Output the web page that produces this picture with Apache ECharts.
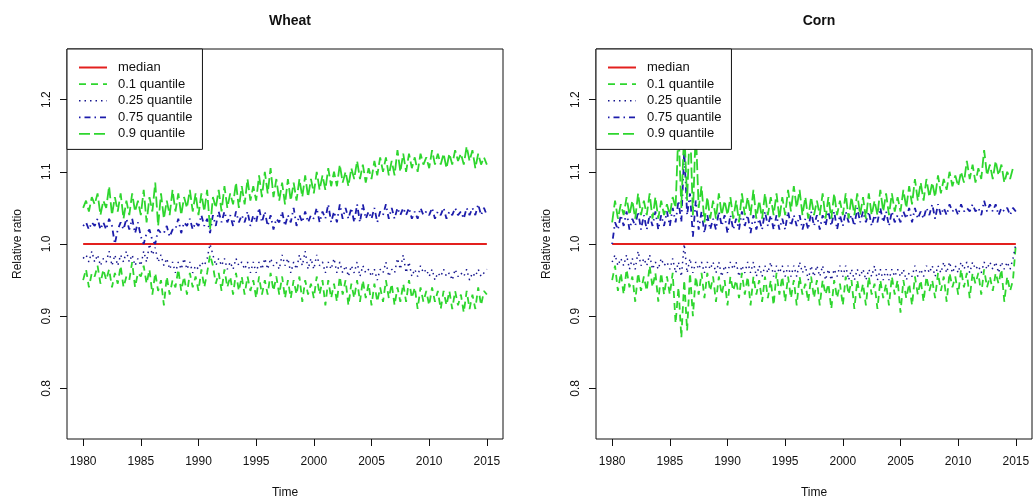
<!DOCTYPE html>
<html>
<head>
<meta charset="utf-8">
<title>Wheat and Corn relative ratio quantiles</title>
<script src="https://cdn.jsdelivr.net/npm/echarts@6/dist/echarts.min.js"></script>
<style>
  html, body { margin: 0; padding: 0; background: #fff; }
  #chart { width: 1034px; height: 502px; }
</style>
</head>
<body>
<div id="chart"></div>
<script>
// quarterly samples, 1980.00 .. 2015.00
const startYear = 1980;
const stepsPerYear = 4;

const yearTicks = [1980, 1985, 1990, 1995, 2000, 2005, 2010, 2015];
const ratioTicks = [0.8, 0.9, 1.0, 1.1, 1.2];
const seriesNames = ['median', '0.1 quantile', '0.25 quantile', '0.75 quantile', '0.9 quantile'];

// median is flat at 1
const medianYears = [1980, 2015];
const medianValues = [1.0, 1.0];

// Wheat
const wheatQ10 = [
  0.95, 0.965, 0.94, 0.96,
  0.955, 0.97, 0.945, 0.965,
  0.95, 0.965, 0.94, 0.96,
  0.945, 0.97, 0.94, 0.955,
  0.95, 0.975, 0.94, 0.96,
  0.955, 0.97, 0.945, 0.965,
  0.93, 0.96, 0.935, 0.95,
  0.915, 0.955, 0.93, 0.95,
  0.94, 0.965, 0.935, 0.955,
  0.93, 0.96, 0.94, 0.955,
  0.935, 0.965, 0.94, 0.96,
  0.985, 0.97, 0.945, 0.96,
  0.935, 0.965, 0.94, 0.955,
  0.93, 0.96, 0.935, 0.955,
  0.93, 0.955, 0.935, 0.95,
  0.925, 0.955, 0.93, 0.95,
  0.93, 0.96, 0.935, 0.955,
  0.93, 0.955, 0.925, 0.95,
  0.925, 0.95, 0.93, 0.955,
  0.92, 0.95, 0.93, 0.945,
  0.925, 0.955, 0.93, 0.95,
  0.915, 0.95, 0.925, 0.945,
  0.92, 0.955, 0.93, 0.95,
  0.915, 0.945, 0.925, 0.95,
  0.92, 0.95, 0.925, 0.945,
  0.915, 0.945, 0.92, 0.94,
  0.92, 0.95, 0.925, 0.945,
  0.915, 0.94, 0.92, 0.945,
  0.92, 0.95, 0.925, 0.94,
  0.91, 0.94, 0.92, 0.935,
  0.915, 0.94, 0.92, 0.935,
  0.91, 0.935, 0.915, 0.935,
  0.91, 0.935, 0.915, 0.93,
  0.905, 0.935, 0.91, 0.93,
  0.91, 0.94, 0.915, 0.935,
  0.93
];
const wheatQ25 = [
  0.98, 0.985, 0.975, 0.99,
  0.975, 0.985, 0.97, 0.98,
  0.975, 0.99, 0.97, 0.985,
  0.97, 0.985, 0.975, 0.99,
  0.975, 0.985, 0.97, 0.98,
  0.97, 0.99, 0.975, 1.0,
  0.985, 0.995, 0.975, 0.985,
  0.97, 0.98, 0.965, 0.975,
  0.96, 0.975, 0.965, 0.98,
  0.965, 0.975, 0.96, 0.97,
  0.965, 0.975, 0.97, 0.98,
  1.0, 0.985, 0.97, 0.98,
  0.97, 0.98, 0.965, 0.975,
  0.965, 0.98, 0.97, 0.975,
  0.965, 0.975, 0.96, 0.975,
  0.96, 0.975, 0.965, 0.98,
  0.965, 0.98, 0.97, 0.975,
  0.965, 0.985, 0.97, 0.98,
  0.96, 0.975, 0.965, 0.985,
  0.97, 0.99, 0.965, 0.98,
  0.965, 0.985, 0.97, 0.975,
  0.96, 0.975, 0.965, 0.98,
  0.96, 0.975, 0.96, 0.97,
  0.955, 0.97, 0.96, 0.975,
  0.955, 0.97, 0.96, 0.965,
  0.955, 0.965, 0.95, 0.965,
  0.96, 0.975, 0.955, 0.965,
  0.96, 0.98, 0.965, 0.985,
  0.96, 0.975, 0.955, 0.965,
  0.955, 0.97, 0.96, 0.965,
  0.955, 0.965, 0.95, 0.96,
  0.955, 0.965, 0.955, 0.96,
  0.95, 0.965, 0.955, 0.96,
  0.955, 0.965, 0.95, 0.96,
  0.955, 0.965, 0.955, 0.96,
  0.965
];
const wheatQ75 = [
  1.025, 1.03, 1.02, 1.03,
  1.025, 1.035, 1.02, 1.03,
  1.02, 1.035, 1.025, 1.0,
  1.02, 1.03, 1.02, 1.035,
  1.02, 1.035, 1.015, 1.03,
  1.01, 1.0, 1.015, 1.02,
  1.005, 1.0, 1.02, 1.015,
  1.015, 1.025, 1.01, 1.02,
  1.02, 1.035, 1.015, 1.03,
  1.025, 1.035, 1.02, 1.03,
  1.025, 1.04, 1.025, 1.035,
  1.015, 1.04, 1.025, 1.045,
  1.03, 1.045, 1.03, 1.04,
  1.025, 1.045, 1.03, 1.04,
  1.03, 1.045, 1.025, 1.04,
  1.03, 1.05, 1.03, 1.045,
  1.025, 1.04, 1.02, 1.035,
  1.03, 1.045, 1.025, 1.04,
  1.03, 1.05, 1.025, 1.04,
  1.03, 1.045, 1.03, 1.04,
  1.035, 1.05, 1.03, 1.045,
  1.035, 1.055, 1.03, 1.045,
  1.03, 1.055, 1.035, 1.05,
  1.035, 1.05, 1.03, 1.055,
  1.03, 1.055, 1.035, 1.045,
  1.035, 1.05, 1.03, 1.045,
  1.04, 1.055, 1.035, 1.05,
  1.035, 1.05, 1.04, 1.05,
  1.04, 1.05, 1.035, 1.045,
  1.035, 1.05, 1.04, 1.045,
  1.04, 1.05, 1.035, 1.045,
  1.04, 1.05, 1.035, 1.045,
  1.04, 1.05, 1.04, 1.045,
  1.035, 1.05, 1.04, 1.05,
  1.04, 1.055, 1.04, 1.05,
  1.04
];
const wheatQ90 = [
  1.05, 1.06, 1.045, 1.065,
  1.055, 1.07, 1.04, 1.06,
  1.05, 1.08, 1.04, 1.065,
  1.045, 1.07, 1.035, 1.06,
  1.04, 1.07, 1.045, 1.06,
  1.04, 1.075, 1.03, 1.065,
  1.045, 1.085, 1.025, 1.07,
  1.035, 1.06, 1.04, 1.075,
  1.045, 1.07, 1.04, 1.065,
  1.05, 1.075, 1.045, 1.07,
  1.04, 1.07, 1.045, 1.075,
  1.02, 1.065, 1.05, 1.075,
  1.045, 1.08, 1.05, 1.07,
  1.055, 1.085, 1.05, 1.08,
  1.055, 1.09, 1.06, 1.08,
  1.06, 1.095, 1.065, 1.1,
  1.07, 1.105, 1.065, 1.09,
  1.06, 1.085, 1.055, 1.09,
  1.06, 1.085, 1.06, 1.09,
  1.065, 1.095, 1.065, 1.09,
  1.07, 1.1, 1.075, 1.095,
  1.075, 1.105, 1.08, 1.1,
  1.08, 1.11, 1.085, 1.1,
  1.08, 1.105, 1.09, 1.115,
  1.09, 1.11, 1.085, 1.105,
  1.09, 1.115, 1.095, 1.12,
  1.1, 1.12, 1.095, 1.115,
  1.095, 1.13, 1.1, 1.125,
  1.1, 1.125, 1.105, 1.12,
  1.1, 1.125, 1.11, 1.12,
  1.105, 1.13, 1.11, 1.125,
  1.11, 1.125, 1.105, 1.125,
  1.11, 1.13, 1.115, 1.125,
  1.11, 1.135, 1.115, 1.13,
  1.105, 1.125, 1.11, 1.12,
  1.11
];

// Corn
const cornQ10 = [
  0.95, 0.97, 0.935, 0.96,
  0.93, 0.965, 0.94, 0.955,
  0.92, 0.96, 0.935, 0.955,
  0.935, 0.97, 0.94, 0.96,
  0.92, 0.96, 0.93, 0.955,
  0.93, 0.96, 0.89, 0.94,
  0.87, 0.95, 0.88, 0.96,
  0.9, 0.955, 0.93, 0.96,
  0.925, 0.96, 0.935, 0.955,
  0.92, 0.955, 0.93, 0.95,
  0.915, 0.955, 0.935, 0.95,
  0.925, 0.96, 0.93, 0.955,
  0.915, 0.955, 0.93, 0.95,
  0.92, 0.955, 0.925, 0.95,
  0.915, 0.96, 0.93, 0.955,
  0.92, 0.955, 0.925, 0.95,
  0.915, 0.955, 0.93, 0.945,
  0.92, 0.955, 0.925, 0.95,
  0.915, 0.95, 0.93, 0.945,
  0.91, 0.95, 0.925, 0.945,
  0.915, 0.955, 0.93, 0.95,
  0.91, 0.95, 0.925, 0.945,
  0.915, 0.955, 0.93, 0.945,
  0.91, 0.95, 0.925, 0.945,
  0.915, 0.955, 0.93, 0.95,
  0.905, 0.95, 0.925, 0.945,
  0.915, 0.955, 0.93, 0.95,
  0.92, 0.955, 0.935, 0.95,
  0.925, 0.96, 0.935, 0.955,
  0.92, 0.96, 0.94, 0.955,
  0.93, 0.965, 0.94, 0.96,
  0.925, 0.96, 0.945, 0.96,
  0.93, 0.965, 0.94, 0.955,
  0.935, 0.96, 0.945, 0.965,
  0.92, 0.955, 0.935, 0.95,
  1.0
];
const cornQ25 = [
  0.975, 0.985, 0.97, 0.98,
  0.97, 0.985, 0.965, 0.98,
  0.965, 0.99, 0.97, 0.98,
  0.97, 0.985, 0.965, 0.975,
  0.965, 0.98, 0.97, 0.975,
  0.965, 0.98, 0.96, 0.975,
  0.955, 1.0, 0.96, 0.98,
  0.96, 0.975, 0.965, 0.975,
  0.96, 0.975, 0.965, 0.975,
  0.96, 0.975, 0.955, 0.97,
  0.96, 0.975, 0.965, 0.975,
  0.955, 0.97, 0.96, 0.975,
  0.96, 0.975, 0.955, 0.97,
  0.955, 0.97, 0.96, 0.975,
  0.955, 0.97, 0.96, 0.97,
  0.955, 0.97, 0.955, 0.97,
  0.955, 0.975, 0.96, 0.97,
  0.95, 0.97, 0.955, 0.97,
  0.955, 0.97, 0.95, 0.965,
  0.95, 0.965, 0.955, 0.97,
  0.955, 0.97, 0.95, 0.965,
  0.95, 0.965, 0.955, 0.965,
  0.95, 0.965, 0.955, 0.97,
  0.95, 0.965, 0.95, 0.965,
  0.95, 0.965, 0.955, 0.965,
  0.955, 0.965, 0.95, 0.96,
  0.955, 0.97, 0.955, 0.965,
  0.955, 0.97, 0.96, 0.97,
  0.955, 0.97, 0.96, 0.975,
  0.96, 0.975, 0.96, 0.97,
  0.96, 0.975, 0.965, 0.975,
  0.96, 0.975, 0.965, 0.97,
  0.96, 0.975, 0.965, 0.975,
  0.965, 0.975, 0.96, 0.975,
  0.965, 0.975, 0.965, 0.98,
  1.0
];
const cornQ75 = [
  1.0, 1.03, 1.02, 1.04,
  1.025, 1.045, 1.02, 1.035,
  1.025, 1.045, 1.02, 1.04,
  1.02, 1.04, 1.025, 1.045,
  1.02, 1.04, 1.025, 1.045,
  1.025, 1.05, 1.03, 1.06,
  1.03, 1.13, 1.04, 1.07,
  1.01, 1.06, 1.02, 1.045,
  1.015, 1.04, 1.02, 1.035,
  1.02, 1.045, 1.025, 1.04,
  1.015, 1.04, 1.02, 1.035,
  1.02, 1.045, 1.025, 1.04,
  1.015, 1.04, 1.02, 1.035,
  1.02, 1.045, 1.025, 1.04,
  1.02, 1.04, 1.02, 1.035,
  1.02, 1.045, 1.025, 1.04,
  1.025, 1.04, 1.02, 1.035,
  1.02, 1.045, 1.025, 1.04,
  1.02, 1.04, 1.025, 1.045,
  1.025, 1.045, 1.02, 1.04,
  1.025, 1.045, 1.03, 1.04,
  1.025, 1.05, 1.03, 1.045,
  1.03, 1.045, 1.025, 1.04,
  1.03, 1.05, 1.03, 1.045,
  1.025, 1.045, 1.03, 1.04,
  1.03, 1.045, 1.035, 1.05,
  1.03, 1.05, 1.035, 1.045,
  1.035, 1.05, 1.04, 1.055,
  1.035, 1.055, 1.04, 1.05,
  1.04, 1.055, 1.045, 1.05,
  1.04, 1.055, 1.045, 1.05,
  1.045, 1.055, 1.045, 1.05,
  1.04, 1.06, 1.045, 1.055,
  1.045, 1.055, 1.04, 1.05,
  1.045, 1.05, 1.04, 1.05,
  1.045
];
const cornQ90 = [
  1.03, 1.06, 1.035, 1.055,
  1.04, 1.065, 1.04, 1.06,
  1.035, 1.07, 1.04, 1.06,
  1.04, 1.07, 1.035, 1.065,
  1.035, 1.06, 1.04, 1.055,
  1.04, 1.065, 1.05, 1.16,
  1.05, 1.16, 1.06, 1.17,
  1.04, 1.16, 1.05, 1.08,
  1.03, 1.065, 1.035, 1.06,
  1.035, 1.07, 1.04, 1.06,
  1.04, 1.065, 1.035, 1.06,
  1.03, 1.07, 1.04, 1.065,
  1.04, 1.075, 1.035, 1.06,
  1.035, 1.07, 1.04, 1.065,
  1.04, 1.07, 1.035, 1.065,
  1.04, 1.075, 1.045, 1.08,
  1.05, 1.075, 1.04, 1.065,
  1.035, 1.065, 1.04, 1.06,
  1.04, 1.07, 1.035, 1.065,
  1.035, 1.07, 1.04, 1.06,
  1.04, 1.07, 1.035, 1.065,
  1.04, 1.07, 1.04, 1.065,
  1.035, 1.07, 1.04, 1.06,
  1.04, 1.075, 1.045, 1.07,
  1.04, 1.07, 1.045, 1.065,
  1.045, 1.075, 1.05, 1.08,
  1.055, 1.09, 1.06, 1.085,
  1.06, 1.09, 1.065, 1.085,
  1.065, 1.095, 1.07, 1.09,
  1.075, 1.1, 1.08, 1.095,
  1.08, 1.1, 1.085, 1.115,
  1.09, 1.11, 1.085, 1.105,
  1.09, 1.13, 1.095, 1.11,
  1.09, 1.115, 1.095, 1.11,
  1.085, 1.1, 1.09, 1.105,
  1.105
];

const font = 'Liberation Sans, Arial, Helvetica, sans-serif';
const green = '#2ed62e';
const styles = {
  'median':        { color: '#e3201e', width: 2,   type: 'solid' },
  '0.1 quantile':  { color: green,     width: 1.8, type: [7, 5] },
  '0.25 quantile': { color: '#16168e', width: 1.5, type: [1.5, 4] },
  '0.75 quantile': { color: '#1c1cab', width: 1.8, type: [1.5, 4, 6, 4] },
  '0.9 quantile':  { color: green,     width: 1.8, type: [11, 4] }
};

const chart = echarts.init(document.getElementById('chart'));

const pairs = (vals) => vals.map((v, i) => [startYear + i / stepsPerYear, v]);

function panel(idx, title, q10, q25, q75, q90, left) {
  const lineData = {
    'median': medianYears.map((t, i) => [t, medianValues[i]]),
    '0.1 quantile': pairs(q10),
    '0.25 quantile': pairs(q25),
    '0.75 quantile': pairs(q75),
    '0.9 quantile': pairs(q90)
  };
  return {
    title: {
      text: title, left: left + 218, top: 9, textAlign: 'center',
      textStyle: { fontFamily: font, fontSize: 14, fontWeight: 'bold', color: '#111' }
    },
    grid: {
      left: left, top: 49, width: 436, height: 390,
      containLabel: false, outerBoundsMode: 'none',
      show: true, borderColor: '#111', borderWidth: 1, backgroundColor: 'transparent'
    },
    xAxis: {
      gridIndex: idx, type: 'value', min: 1978.6, max: 2016.4,
      name: 'Time', nameLocation: 'middle', nameGap: 48,
      nameTextStyle: { fontFamily: font, fontSize: 12, color: '#111' },
      axisLine: { show: false },
      splitLine: { show: false },
      axisTick: { customValues: yearTicks, length: 7, lineStyle: { color: '#111' } },
      axisLabel: {
        customValues: yearTicks, margin: 17,
        fontFamily: font, fontSize: 12, color: '#111',
        formatter: (v) => String(v)
      }
    },
    yAxis: {
      gridIndex: idx, type: 'value', min: 0.73, max: 1.27,
      name: 'Relative ratio', nameLocation: 'middle', nameGap: 43, nameRotate: 90,
      nameTextStyle: { fontFamily: font, fontSize: 12, color: '#111' },
      axisLine: { show: false },
      splitLine: { show: false },
      axisTick: { customValues: ratioTicks, length: 7, lineStyle: { color: '#111' } },
      axisLabel: {
        customValues: ratioTicks, rotate: 90, margin: 14,
        fontFamily: font, fontSize: 12, color: '#111',
        formatter: (v) => v.toFixed(1)
      }
    },
    legend: {
      left: left, top: 49, orient: 'vertical',
      data: seriesNames,
      backgroundColor: '#fff', borderColor: '#111', borderWidth: 1, borderRadius: 0,
      padding: [12, 10, 9, 11],
      itemWidth: 28, itemHeight: 14, itemGap: 3.6,
      selectedMode: false,
      itemStyle: { opacity: 0 },
      lineStyle: { width: 'inherit', type: 'inherit' },
      textStyle: { fontFamily: font, fontSize: 13, color: '#111', padding: [0, 0, 0, 6] }
    },
    series: seriesNames.map((name) => ({
      name: name,
      type: 'line',
      xAxisIndex: idx,
      yAxisIndex: idx,
      symbol: 'none',
      silent: true,
      animation: false,
      data: lineData[name],
      color: styles[name].color,
      lineStyle: { color: styles[name].color, width: styles[name].width, type: styles[name].type }
    }))
  };
}

const wheat = panel(0, 'Wheat', wheatQ10, wheatQ25, wheatQ75, wheatQ90, 67);
const corn = panel(1, 'Corn', cornQ10, cornQ25, cornQ75, cornQ90, 596);

chart.setOption({
  backgroundColor: '#fff',
  animation: false,
  title: [wheat.title, corn.title],
  grid: [wheat.grid, corn.grid],
  xAxis: [wheat.xAxis, corn.xAxis],
  yAxis: [wheat.yAxis, corn.yAxis],
  legend: [wheat.legend, corn.legend],
  series: wheat.series.concat(corn.series)
});

window.addEventListener('resize', () => chart.resize());
</script>
</body>
</html>
